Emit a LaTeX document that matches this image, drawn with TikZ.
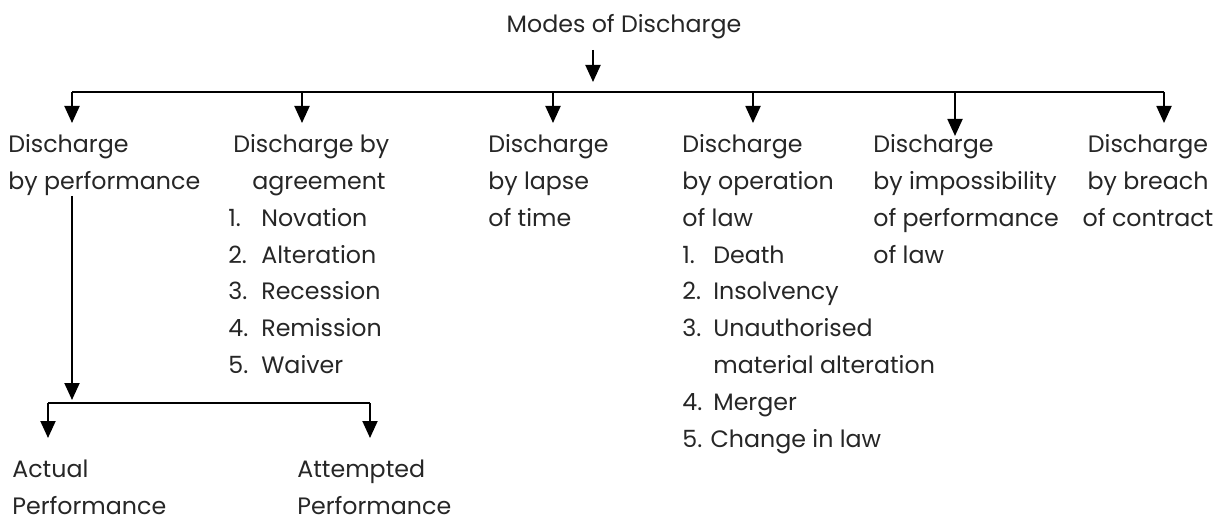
\documentclass[tikz,border=0pt]{standalone}
\usepackage{fontspec}
\setmainfont{Poppins}
\usetikzlibrary{arrows.meta}
\newcommand{\lbfont}{\fontsize{13.5pt}{21pt}\selectfont}
\newcommand{\num}[1]{\makebox[0.66cm][l]{#1}}
\newcommand{\numb}[1]{\makebox[0.62cm][l]{#1}}
\begin{document}
\begin{tikzpicture}[
    x=0.02cm, y=-0.02cm,
    lbl/.style={inner sep=0pt, anchor=north west, align=left, text=black!85, font=\lbfont},
    lblc/.style={inner sep=0pt, anchor=north, align=center, text=black!85, font=\lbfont},
    arr/.style={-{Triangle[length=0.34cm, width=0.3cm]}, line width=1.1pt},
    bus/.style={line width=1.1pt}
]
\useasboundingbox (0,0) rectangle (1219,526);

% Title
\node[lblc] (modes) at (624,14) {Modes of Discharge};

% Modes
\node[lbl] (perf) at (8,134) {Discharge\\by performance};
\node[lbl] (agree) at (228,134) {\hspace*{0.1cm}Discharge by\\\hspace*{0.48cm}agreement\\\num{1.}Novation\\\num{2.}Alteration\\\num{3.}Recession\\\num{4.}Remission\\\num{5.}Waiver};
\node[lbl] (lapse) at (488,134) {Discharge\\by lapse\\of time};
\node[lbl] (oplaw) at (682,134) {Discharge\\by operation\\of law\\\numb{1.}Death\\\numb{2.}Insolvency\\\numb{3.}Unauthorised\\\hspace*{0.62cm}material alteration\\\numb{4.}Merger\\5. Change in law};
\node[lbl] (imposs) at (873,134) {Discharge\\by impossibility\\of performance\\of law};
\node[lblc] (breach) at (1148,134) {Discharge\\by breach\\of contract};

% Performance types
\node[lbl] (actual) at (12,460) {Actual\\Performance};
\node[lbl] (attempt) at (297,460) {Attempted\\Performance};

% Junctions
\coordinate (t0) at (593,50);
\coordinate (t1) at (593,82);
\coordinate (busL) at (72,92);
\coordinate (busR) at (1164,92);
\coordinate (d1) at (72,123);
\coordinate (d2) at (302,123);
\coordinate (d3) at (553,123);
\coordinate (d4) at (753,123);
\coordinate (d5) at (955,136);
\coordinate (d6) at (1164,123);
\coordinate (v1) at (72,400);
\coordinate (sbL) at (48,403);
\coordinate (sbR) at (370,403);
\coordinate (s1) at (48,438);
\coordinate (s2) at (370,438);

% Arrows
\draw[arr] (t0) -- (t1);
\draw[bus] (busL) -- (busR);
\draw[arr] (busL -| d1) -- (d1);
\draw[arr] (busL -| d2) -- (d2);
\draw[arr] (busL -| d3) -- (d3);
\draw[arr] (busL -| d4) -- (d4);
\draw[arr] (busL -| d5) -- (d5);
\draw[arr] (busL -| d6) -- (d6);
\draw[arr] (perf.south -| v1) -- (v1);
\draw[bus] (sbL) -- (sbR);
\draw[arr] (sbL) -- (s1);
\draw[arr] (sbR) -- (s2);

\end{tikzpicture}
\end{document}
